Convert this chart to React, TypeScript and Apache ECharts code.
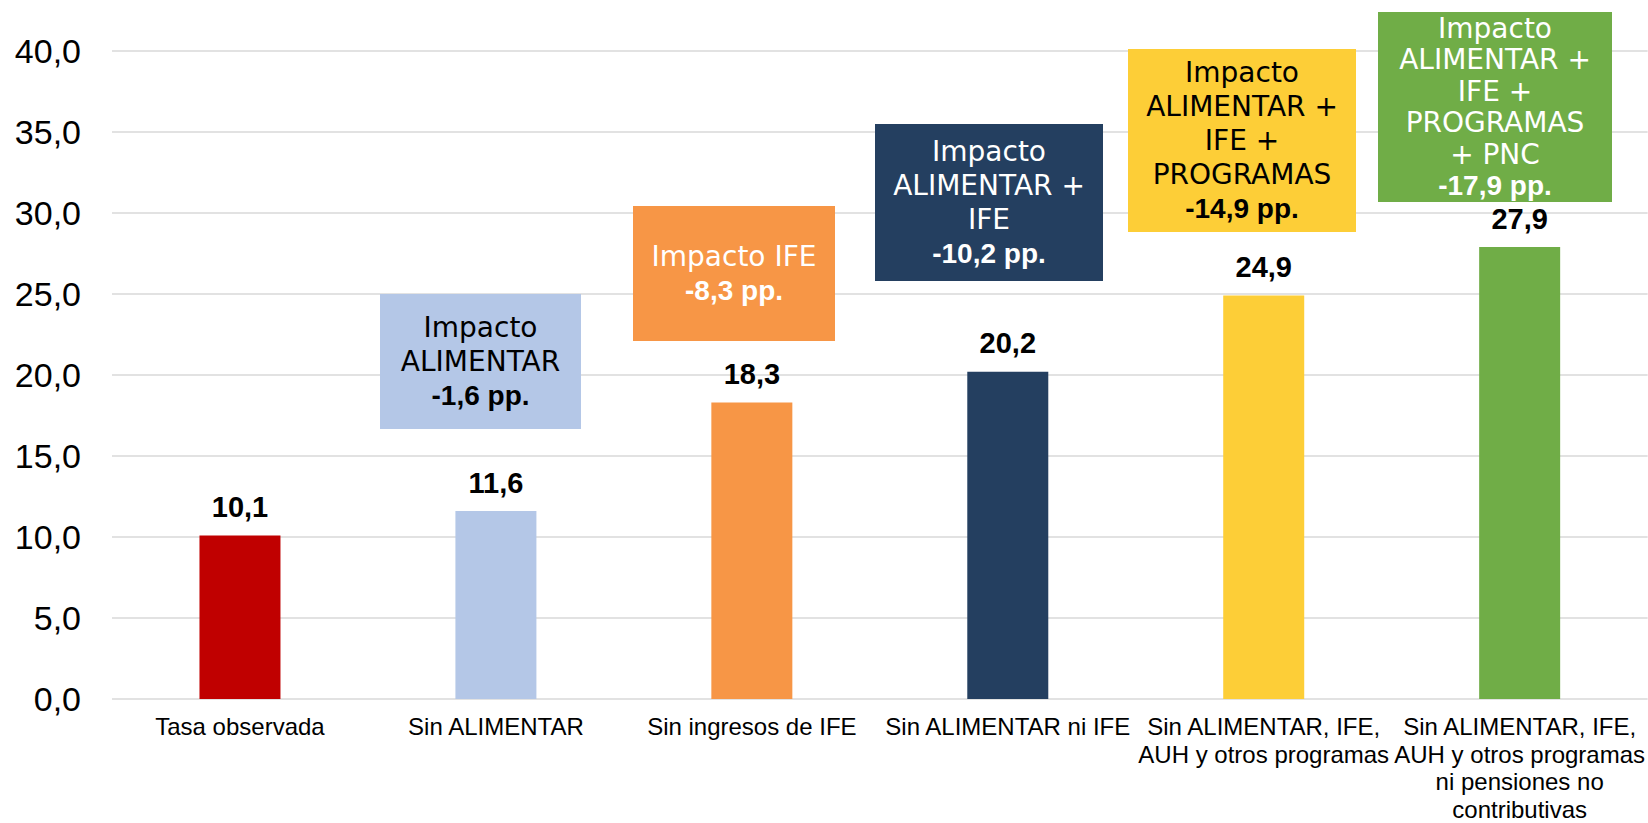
import React, { useEffect, useRef } from "react";
import * as echarts from "echarts";

// ---- data ----
const categories = [
  "Tasa observada",
  "Sin ALIMENTAR",
  "Sin ingresos de IFE",
  "Sin ALIMENTAR ni IFE",
  "Sin ALIMENTAR, IFE,\nAUH y otros programas",
  "Sin ALIMENTAR, IFE,\nAUH y otros programas\nni pensiones no\ncontributivas",
];
const values = [10.1, 11.6, 18.3, 20.2, 24.9, 27.9];
const barColors = ["#C00000", "#B4C7E7", "#F79646", "#243F60", "#FDCE37", "#70AD47"];
const yMin = 0;
const yMax = 40;
const yInterval = 5;

const impactTitles = [
  ["Impacto", "ALIMENTAR"],
  ["Impacto IFE"],
  ["Impacto", "ALIMENTAR +", "IFE"],
  ["Impacto", "ALIMENTAR +", "IFE +", "PROGRAMAS"],
  ["Impacto", "ALIMENTAR +", "IFE +", "PROGRAMAS", "+ PNC"],
];
const impactValues = ["-1,6 pp.", "-8,3 pp.", "-10,2 pp.", "-14,9 pp.", "-17,9 pp."];

// ---- layout of annotation boxes (pixels) ----
const boxLayout = [
  { x: 380, y: 294, w: 201, h: 135, fill: "#B4C7E7", text: "#000000", lh: 34 },
  { x: 633, y: 206, w: 202, h: 135, fill: "#F79646", text: "#FFFFFF", lh: 34 },
  { x: 875, y: 124, w: 228, h: 157, fill: "#243F60", text: "#FFFFFF", lh: 34 },
  { x: 1128, y: 49, w: 228, h: 183, fill: "#FDCE37", text: "#000000", lh: 34 },
  { x: 1378, y: 12, w: 234, h: 190, fill: "#70AD47", text: "#FFFFFF", lh: 31.5 },
];

const fmt = (v: number) => v.toFixed(1).replace(".", ",");

export default function App() {
  const ref = useRef<HTMLDivElement>(null);
  useEffect(() => {
    if (!ref.current) return;
    const chart = echarts.init(ref.current, null, { renderer: "svg" });

    const graphics: any[] = [];
    boxLayout.forEach((b, i) => {
      graphics.push({
        type: "rect",
        z: 3,
        shape: { x: b.x, y: b.y, width: b.w, height: b.h },
        style: { fill: b.fill },
      });
      const txt =
        impactTitles[i].map((t) => `{n|${t}}`).join("\n") + `\n{b|${impactValues[i]}}`;
      graphics.push({
        type: "text",
        z: 4,
        x: b.x + b.w / 2,
        y: b.y + b.h / 2,
        style: {
          text: txt,
          align: "center",
          verticalAlign: "middle",
          fill: b.text,
          rich: {
            n: {
              fontFamily: "'DejaVu Sans', sans-serif",
              fontSize: 28,
              lineHeight: b.lh,
              fill: b.text,
              color: b.text,
            },
            b: {
              fontFamily: "'Liberation Sans', Arial, sans-serif",
              fontSize: 28,
              fontWeight: "bold",
              lineHeight: b.lh,
              fill: b.text,
              color: b.text,
            },
          },
        },
      });
    });

    chart.setOption({
      animation: false,
      backgroundColor: "#FFFFFF",
      grid: { left: 112, right: 0, top: 51, height: 651, containLabel: false },
      xAxis: {
        type: "category",
        data: categories,
        axisLine: { show: false },
        axisTick: { show: false },
        axisLabel: {
          interval: 0,
          margin: 14,
          fontSize: 24,
          lineHeight: 27.5,
          color: "#000000",
          fontFamily: "'Liberation Sans', Arial, sans-serif",
        },
      },
      yAxis: {
        type: "value",
        min: yMin,
        max: yMax,
        interval: yInterval,
        axisLine: { show: false },
        axisTick: { show: false },
        splitLine: { lineStyle: { color: "#D9D9D9", width: 1.5 } },
        axisLabel: {
          margin: 31,
          fontSize: 34,
          color: "#000000",
          fontFamily: "'Liberation Sans', Arial, sans-serif",
          formatter: (v: number) => fmt(v),
        },
      },
      series: [
        {
          type: "bar",
          barWidth: 81,
          data: values.map((v, i) => ({ value: v, itemStyle: { color: barColors[i] } })),
          label: {
            show: true,
            position: "top",
            distance: 14,
            fontSize: 29,
            fontWeight: "bold",
            color: "#000000",
            fontFamily: "'Liberation Sans', Arial, sans-serif",
            formatter: (p: any) => fmt(p.value),
          },
        },
      ],
      graphic: graphics,
    });
    return () => chart.dispose();
  }, []);
  return (
    <div
      ref={ref}
      style={{ position: "absolute", left: 0, top: 0, width: 1648, height: 823 }}
    />
  );
}
